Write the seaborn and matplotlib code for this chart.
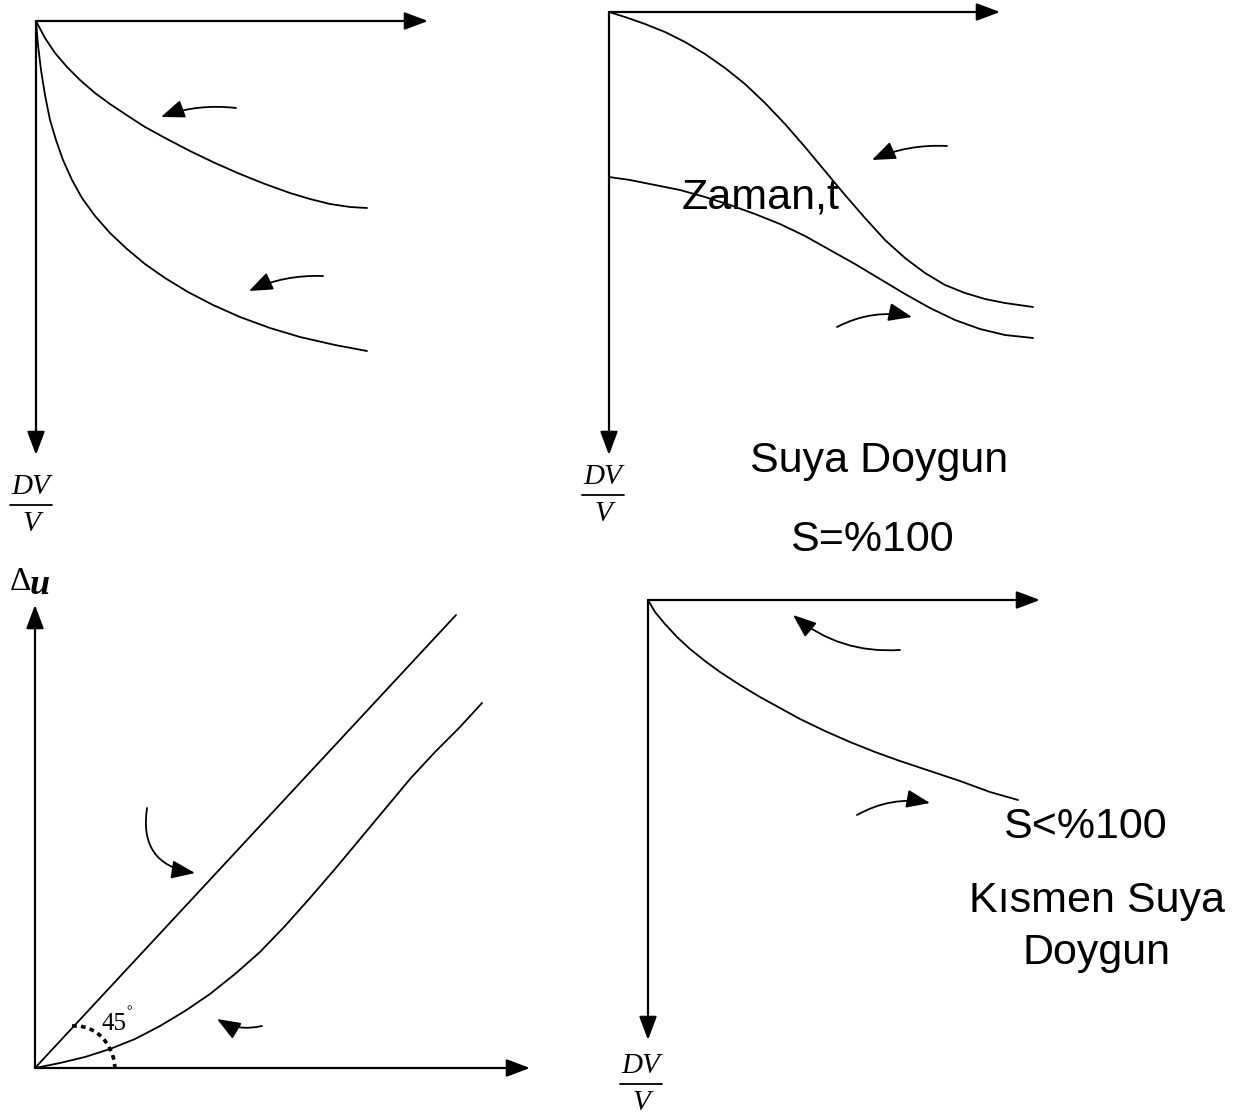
import matplotlib
matplotlib.use("Agg")
import matplotlib.pyplot as plt
import seaborn as sns
import pandas as pd

sns.set_theme(style="white")
plt.rcParams['font.family'] = ['Liberation Sans', 'DejaVu Sans']

# ---- data (diagram coordinates in pixel units, y downward) ----
tl_upper_x = [36, 45, 55, 67, 80, 95, 110, 128, 145, 167, 190, 215, 240, 265, 290, 310, 330, 350, 367]
tl_upper_y = [21, 38, 53, 67, 80, 93, 104, 116, 127, 139, 151, 163, 174, 184, 193, 199, 204, 207, 208]
tl_lower_x = [36, 38, 41, 45, 50, 56, 63, 72, 82, 95, 110, 127, 145, 165, 188, 213, 240, 270, 300, 335, 367]
tl_lower_y = [21, 45, 70, 95, 120, 140, 160, 180, 198, 216, 233, 249, 264, 278, 292, 305, 317, 328, 337, 345, 351]

tr_upper_x = [609, 625, 645, 665, 685, 705, 725, 745, 765, 785, 805, 825, 845, 865, 885, 905, 925, 945, 965, 985, 1005, 1033]
tr_upper_y = [12, 17, 24, 32, 42, 54, 68, 84, 103, 124, 147, 171, 195, 218, 240, 258, 273, 285, 293, 299, 303, 307]
tr_lower_x = [609, 630, 655, 680, 705, 730, 755, 780, 805, 830, 855, 880, 905, 930, 955, 980, 1005, 1033]
tr_lower_y = [177, 180, 185, 190, 197, 205, 214, 224, 236, 250, 264, 279, 294, 308, 320, 329, 335, 338]

bl_line_x = [35, 456]
bl_line_y = [1068, 615]
bl_curve_x = [35, 60, 85, 110, 135, 160, 185, 210, 235, 260, 285, 310, 335, 360, 385, 410, 435, 460, 482]
bl_curve_y = [1068, 1063, 1057, 1049, 1039, 1026, 1011, 994, 974, 952, 926, 898, 869, 839, 809, 779, 752, 727, 703]
bl_arc_x = [72, 80, 88, 96, 103, 108, 112, 114, 115]
bl_arc_y = [1026, 1026, 1028, 1032, 1038, 1045, 1053, 1060, 1068]

br_curve_x = [648, 655, 665, 677, 690, 705, 720, 740, 760, 780, 800, 825, 850, 875, 900, 930, 960, 990, 1018]
br_curve_y = [600, 612, 624, 637, 649, 661, 672, 685, 697, 708, 719, 731, 742, 752, 761, 771, 781, 792, 800]

# axes: (tail_x, tail_y, head_x, head_y)
axis_arrows = [
    (36, 21, 428, 21), (36, 21, 36, 455),
    (609, 12, 1000, 12), (609, 12, 609, 455),
    (35, 1068, 35, 605), (35, 1068, 530, 1068),
    (648, 600, 1040, 600), (648, 600, 648, 1040),
]
# small curved pointer arrows: (tail_x, tail_y, head_x, head_y, rad)
pointer_arrows = [
    (236, 108, 161, 117, 0.12), (323, 276, 249, 291, 0.12),
    (947, 146, 872, 160, 0.12), (837, 327, 912, 317, -0.18),
    (147, 808, 195, 873, 0.5), (262, 1026, 217, 1019, -0.2),
    (900, 650, 793, 615, -0.2), (857, 815, 930, 803, -0.18),
]
sans_labels = [
    ("Zaman,t", 761, 198), ("Suya Doygun", 879, 461), ("S=%100", 872, 540),
    ("S<%100", 1085, 827), ("Kısmen Suya", 1097, 901), ("Doygun", 1097, 953),
]
# (x, y of fraction bar)
dv_labels = [(31, 505), (603, 495), (641, 1084)]

# ---- drawing ----
fig = plt.figure(figsize=(12.48, 11.15), dpi=100)
ax = fig.add_axes([0, 0, 1, 1])

curves = [
    (tl_upper_x, tl_upper_y), (tl_lower_x, tl_lower_y),
    (tr_upper_x, tr_upper_y), (tr_lower_x, tr_lower_y),
    (bl_line_x, bl_line_y), (bl_curve_x, bl_curve_y),
    (br_curve_x, br_curve_y),
]
for xs, ys in curves:
    df = pd.DataFrame({"x": xs, "y": ys})
    sns.lineplot(data=df, x="x", y="y", ax=ax, sort=False, estimator=None,
                 color="black", linewidth=1.3)

df_arc = pd.DataFrame({"x": bl_arc_x, "y": bl_arc_y})
sns.lineplot(data=df_arc, x="x", y="y", ax=ax, sort=False, estimator=None,
             color="black", linewidth=2.6, linestyle=(0, (1.3, 1.2)))
ax.set_xlim(0, 1248)
ax.set_ylim(1115, 0)
ax.axis("off")

for tx, ty, hx, hy in axis_arrows:
    ax.annotate("", xy=(hx, hy), xytext=(tx, ty),
                arrowprops=dict(arrowstyle="-|>,head_length=0.8,head_width=0.3",
                                color="black", lw=1.6, shrinkA=0, shrinkB=0,
                                mutation_scale=18))

for tx, ty, hx, hy, rad in pointer_arrows:
    ax.annotate("", xy=(hx, hy), xytext=(tx, ty),
                arrowprops=dict(arrowstyle="-|>,head_length=0.9,head_width=0.35",
                                color="black", lw=1.3, shrinkA=0, shrinkB=0,
                                mutation_scale=16,
                                connectionstyle=f"arc3,rad={rad}"))

for s, x, y in sans_labels:
    ax.text(x, y, s, fontsize=31, ha="center", va="center", color="black",
            family=["Liberation Sans", "DejaVu Sans"])

for x, y in dv_labels:
    ax.text(x, y - 5, "DV", fontsize=21, ha="center", va="bottom", style="italic",
            family=["Liberation Serif", "DejaVu Serif"], color="black")
    ax.plot([x - 21, x + 21], [y, y], color="black", lw=1.3)
    ax.text(x, y + 6, "V", fontsize=21, ha="center", va="top", style="italic",
            family=["Liberation Serif", "DejaVu Serif"], color="black")

ax.text(10, 582, "Δ", fontsize=24, ha="left", va="center",
        family=["Liberation Serif", "DejaVu Serif"], color="black")
ax.text(30, 585, "u", fontsize=26, ha="left", va="center", style="italic",
        weight="bold", family=["Liberation Serif", "DejaVu Serif"], color="black")
ax.text(102, 1024, "45", fontsize=18, ha="left", va="center",
        family=["Liberation Serif", "DejaVu Serif"], color="black")
ax.text(126, 1012, "°", fontsize=10, ha="left", va="center",
        family=["Liberation Serif", "DejaVu Serif"], color="black")

fig.savefig("out.png", dpi=100)
